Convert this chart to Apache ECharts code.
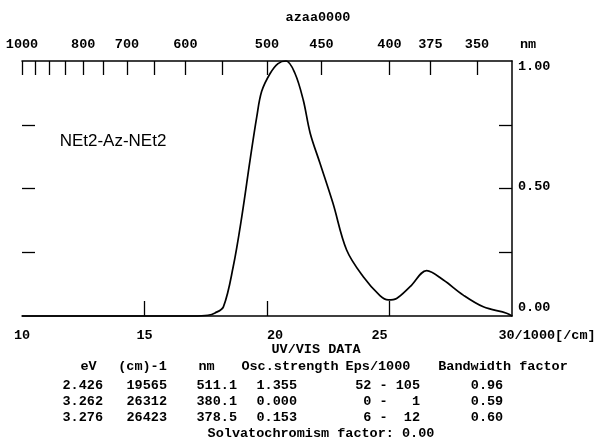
<!DOCTYPE html>
<html>
<head>
<meta charset="utf-8">
<script src="https://cdn.jsdelivr.net/npm/echarts@6/dist/echarts.min.js"></script>
<style>
html, body { margin: 0; padding: 0; background: #fff; }
#chart { width: 603px; height: 444px; }
</style>
</head>
<body>
<div id="chart"></div>
<script>
// Absorption spectrum, normalised, against wavenumber (1000/cm)
const wavenumber = [10, 17.0, 17.59, 17.88, 18.22, 18.62, 18.97, 19.31, 19.58, 19.78, 20.12, 20.45, 20.78,
  21.14, 21.48, 21.76, 22.16, 22.69, 23.25, 23.93, 24.61, 24.95, 25.29, 25.84, 26.52, 27.20, 28.01, 28.83, 29.78, 30];
const absorbance = [0, 0, 0.003, 0.012, 0.036, 0.193, 0.389, 0.612, 0.78, 0.88, 0.95, 0.99, 1.0,
  0.952, 0.847, 0.718, 0.60, 0.443, 0.259, 0.154, 0.080, 0.063, 0.069, 0.115, 0.178, 0.141, 0.082, 0.036, 0.011, 0];

// Wavelength scale along the top (nm)
const nmTicks = [1000, 950, 900, 850, 800, 750, 700, 650, 600, 550, 500, 450, 400, 375, 350];
const nmLabels = [1000, 800, 700, 600, 500, 450, 400, 375, 350];

// Wavenumber scale along the bottom and absorbance scale on the right
const waveTicks = [15, 20, 25];
const waveLabels = [10, 15, 20, 25, 30];
const absTicks = [0.25, 0.5, 0.75];
const absLabels = [0, 0.5, 1];

// Computed transition table
const tableTitle = 'UV/VIS DATA';
const tableHeader = ['eV', '(cm)-1', 'nm', 'Osc.strength', 'Eps/1000', 'Bandwidth factor'];
const tableRows = [
  ['2.426', '19565', '511.1', '1.355', '52 - 105', '0.96'],
  ['3.262', '26312', '380.1', '0.000', ' 0 -   1', '0.59'],
  ['3.276', '26423', '378.5', '0.153', ' 6 -  12', '0.60']
];
const tableFooter = 'Solvatochromism factor: 0.00';
const fileName = 'azaa0000';
const compound = 'NEt2-Az-NEt2';

const MONO = '"Liberation Mono", "DejaVu Sans Mono", monospace';
const INK = '#000';
const FS = 13.5;
const FW = 'bold';

const toNm = v => Math.round(10000 / v);
const monoText = (extra) => Object.assign({ fontFamily: MONO, fontSize: FS, fontWeight: FW, color: INK }, extra || {});
const monoFont = FW + ' ' + FS + 'px ' + MONO;

const chart = echarts.init(document.getElementById('chart'), null, { renderer: 'canvas' });

// Layout of the table below the plot
const headerCx = [88.5, 142.5, 206.5, 290, 378, 503];
const cellX = [103, 167, 237, 297, 420, 487];
const cellAlign = ['right', 'right', 'right', 'right', 'right', 'center'];
const rowY = [386, 402, 418];

const textEl = (text, x, y, align, font, fill) => ({
  type: 'text',
  style: { text: text, x: x, y: y, align: align, verticalAlign: 'middle', font: font || monoFont, fill: fill || INK }
});

const graphics = [];
graphics.push(textEl(fileName, 318, 18, 'center'));
graphics.push(textEl(compound, 113, 141, 'center', '17px "Liberation Sans", Arial, sans-serif', '#000'));
graphics.push(textEl(tableTitle, 316, 350, 'center'));
tableHeader.forEach((h, i) => graphics.push(textEl(h, headerCx[i], 366.5, 'center')));
tableRows.forEach((row, r) => {
  row.forEach((cell, i) => graphics.push(textEl(cell, cellX[i], rowY[r], cellAlign[i])));
});
graphics.push(textEl(tableFooter, 321, 433.5, 'center'));

const axisLineStyle = { color: INK, width: 1.5 };
const tickStyle = { color: INK, width: 1.3 };

const option = {
  animation: false,
  backgroundColor: '#fff',
  grid: { left: 22, right: 91, top: 61, bottom: 128, containLabel: false },
  xAxis: [
    {
      type: 'value', position: 'bottom', min: 10, max: 30, interval: 5,
      axisLine: { show: true, onZero: false, lineStyle: axisLineStyle },
      axisTick: { show: true, inside: true, length: 15, customValues: waveTicks, lineStyle: tickStyle },
      splitLine: { show: false },
      axisLabel: {
        customValues: waveLabels, margin: 13,
        fontFamily: MONO, fontSize: FS, fontWeight: FW, color: INK,
        formatter: v => v === 30 ? '{e|30/1000[/cm]}' : v === 20 ? '{r|20}' : v === 25 ? '{l|25}' : '{n|' + v + '}',
        rich: {
          n: monoText(),
          e: monoText({ padding: [0, 0, 0, 70] }),
          r: monoText({ padding: [0, 0, 0, 16] }),
          l: monoText({ padding: [0, 20, 0, 0] })
        }
      }
    },
    {
      type: 'value', position: 'top', min: 10, max: 30,
      name: 'nm', nameLocation: 'end', nameGap: 8,
      nameTextStyle: { fontFamily: MONO, fontSize: FS, fontWeight: FW, color: INK, verticalAlign: 'bottom', padding: [0, 0, 9, 0] },
      axisLine: { show: true, onZero: false, lineStyle: axisLineStyle },
      axisTick: { show: true, inside: true, length: 14, customValues: nmTicks.map(n => 10000 / n), lineStyle: tickStyle },
      splitLine: { show: false },
      axisLabel: {
        customValues: nmLabels.map(n => 10000 / n), margin: 9,
        fontFamily: MONO, fontSize: FS, fontWeight: FW, color: INK,
        formatter: v => String(toNm(v))
      }
    }
  ],
  yAxis: [
    {
      type: 'value', position: 'right', min: 0, max: 1, interval: 0.25,
      axisLine: { show: true, onZero: false, lineStyle: axisLineStyle },
      axisTick: { show: true, inside: true, length: 13, customValues: absTicks, lineStyle: tickStyle },
      splitLine: { show: false },
      axisLabel: {
        customValues: absLabels, margin: 6,
        fontFamily: MONO, fontSize: FS, fontWeight: FW, color: INK,
        formatter: v => v === 1 ? '{t|1.00}' : v === 0 ? '{b|0.00}' : '{m|' + v.toFixed(2) + '}',
        rich: {
          t: monoText({ padding: [12, 0, 0, 0] }),
          b: monoText({ padding: [0, 0, 16, 0] }),
          m: monoText({ padding: [0, 0, 4, 0] })
        }
      }
    },
    {
      type: 'value', position: 'left', min: 0, max: 1, interval: 0.25,
      axisLine: { show: false, onZero: false },
      axisTick: { show: true, inside: true, length: 13, customValues: absTicks, lineStyle: tickStyle },
      splitLine: { show: false },
      axisLabel: { show: false }
    }
  ],
  series: [
    {
      type: 'line',
      xAxisIndex: 0, yAxisIndex: 0,
      data: wavenumber.map((w, i) => [w, absorbance[i]]),
      smooth: 0.35,
      showSymbol: false,
      clip: false,
      lineStyle: { color: '#000', width: 1.7 }
    }
  ],
  graphic: graphics
};

chart.setOption(option);
</script>
</body>
</html>
